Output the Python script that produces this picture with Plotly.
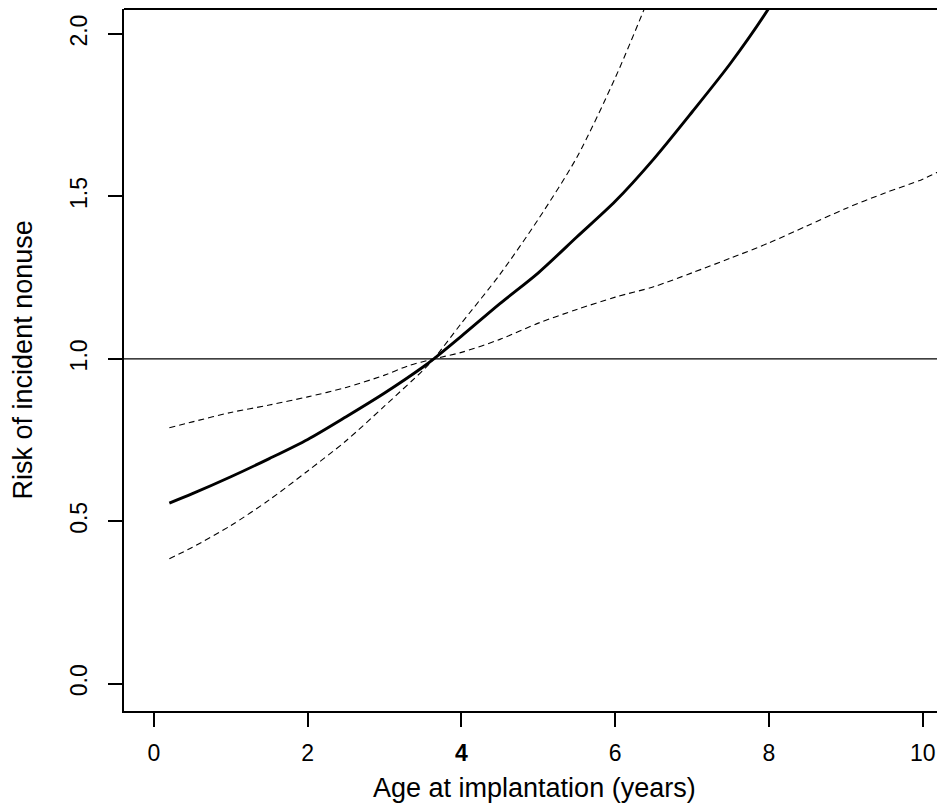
import plotly.graph_objects as go

# ---- data ----
age_est = [0.2, 0.5, 1.0, 1.5, 2.0, 2.5, 3.0, 3.5, 3.64, 4.0, 4.5, 5.0, 5.5, 6.0, 6.5, 7.0, 7.5, 8.0, 8.1]
risk_est = [0.556, 0.585, 0.637, 0.693, 0.752, 0.822, 0.895, 0.975, 1.0, 1.07, 1.17, 1.265, 1.375, 1.485, 1.615, 1.76, 1.91, 2.08, 2.12]

age_ci_a = [0.2, 0.5, 1.0, 1.5, 2.0, 2.5, 3.0, 3.5, 3.64, 4.0, 4.5, 5.0, 5.5, 6.0, 6.4, 6.5]
risk_ci_a = [0.385, 0.42, 0.487, 0.566, 0.655, 0.748, 0.855, 0.965, 1.0, 1.11, 1.26, 1.43, 1.62, 1.865, 2.09, 2.15]

age_ci_b = [0.2, 0.5, 1.0, 1.5, 2.0, 2.5, 3.0, 3.3, 3.64, 4.0, 4.5, 5.0, 5.5, 6.0, 6.5, 7.0, 7.5, 8.0, 8.5, 9.0, 9.5, 10.0, 10.4]
risk_ci_b = [0.788, 0.806, 0.835, 0.858, 0.883, 0.912, 0.950, 0.978, 1.0, 1.02, 1.06, 1.11, 1.152, 1.19, 1.222, 1.265, 1.31, 1.357, 1.41, 1.463, 1.51, 1.553, 1.60]

ref_level = 1.0

x_tickvals = [0, 2, 4, 6, 8, 10]
x_ticktext = ["0", "2", "<b>4</b>", "6", "8", "10"]
y_tickvals = [0.0, 0.5, 1.0, 1.5, 2.0]
y_ticktext = ["0.0", "0.5", "1.0", "1.5", "2.0"]

x_title = "Age at implantation (years)"
y_title = "Risk of incident nonuse"

FONT = "Liberation Sans, Arial, sans-serif"

fig = go.Figure()
fig.add_trace(go.Scatter(x=age_ci_a, y=risk_ci_a, mode="lines",
                         line=dict(color="black", width=1.1, dash="6px,4px",
                                   shape="spline", smoothing=0.8),
                         showlegend=False, hoverinfo="skip"))
fig.add_trace(go.Scatter(x=age_ci_b, y=risk_ci_b, mode="lines",
                         line=dict(color="black", width=1.1, dash="6px,4px",
                                   shape="spline", smoothing=0.8),
                         showlegend=False, hoverinfo="skip"))
fig.add_trace(go.Scatter(x=age_est, y=risk_est, mode="lines",
                         line=dict(color="black", width=2.9, shape="spline", smoothing=0.8),
                         showlegend=False, hoverinfo="skip"))

# reference line at 1.0
fig.add_shape(type="line", xref="paper", yref="y", x0=0, x1=1, y0=ref_level, y1=ref_level,
              line=dict(color="black", width=1.2))
# top border of the box
fig.add_shape(type="line", xref="paper", yref="paper", x0=0, x1=1, y0=1, y1=1,
              line=dict(color="black", width=2))

fig.update_xaxes(range=[-0.39, 10.29], showgrid=False, zeroline=False,
                 showline=True, linecolor="black", linewidth=2, mirror=False,
                 ticks="outside", ticklen=14, tickwidth=1.5, tickcolor="black",
                 tickvals=x_tickvals, ticktext=x_ticktext,
                 tickfont=dict(family=FONT, size=23, color="black"),
                 ticklabelstandoff=6)
fig.update_yaxes(range=[-0.084, 2.077], showgrid=False, zeroline=False,
                 showline=True, linecolor="black", linewidth=2, mirror=False,
                 ticks="outside", ticklen=14, tickwidth=1.5, tickcolor="black",
                 tickvals=y_tickvals, ticktext=y_ticktext, tickangle=-90,
                 tickfont=dict(family=FONT, size=23, color="black"),
                 ticklabelstandoff=12)

fig.add_annotation(text=x_title, xref="paper", yref="paper", x=0.5, y=-0.110,
                   xanchor="center", yanchor="middle", showarrow=False,
                   font=dict(family=FONT, size=27, color="black"))
fig.add_annotation(text=y_title, xref="paper", yref="paper", x=-0.1225, y=0.5,
                   xanchor="center", yanchor="middle", showarrow=False, textangle=-90,
                   font=dict(family=FONT, size=27, color="black"))

# page body has an 8px margin; size the figure so the plot lands where the reference has it
fig.update_layout(width=937, height=802, margin=dict(l=116, r=0, t=1, b=99),
                  plot_bgcolor="white", paper_bgcolor="white")

fig.write_html("out.html")
